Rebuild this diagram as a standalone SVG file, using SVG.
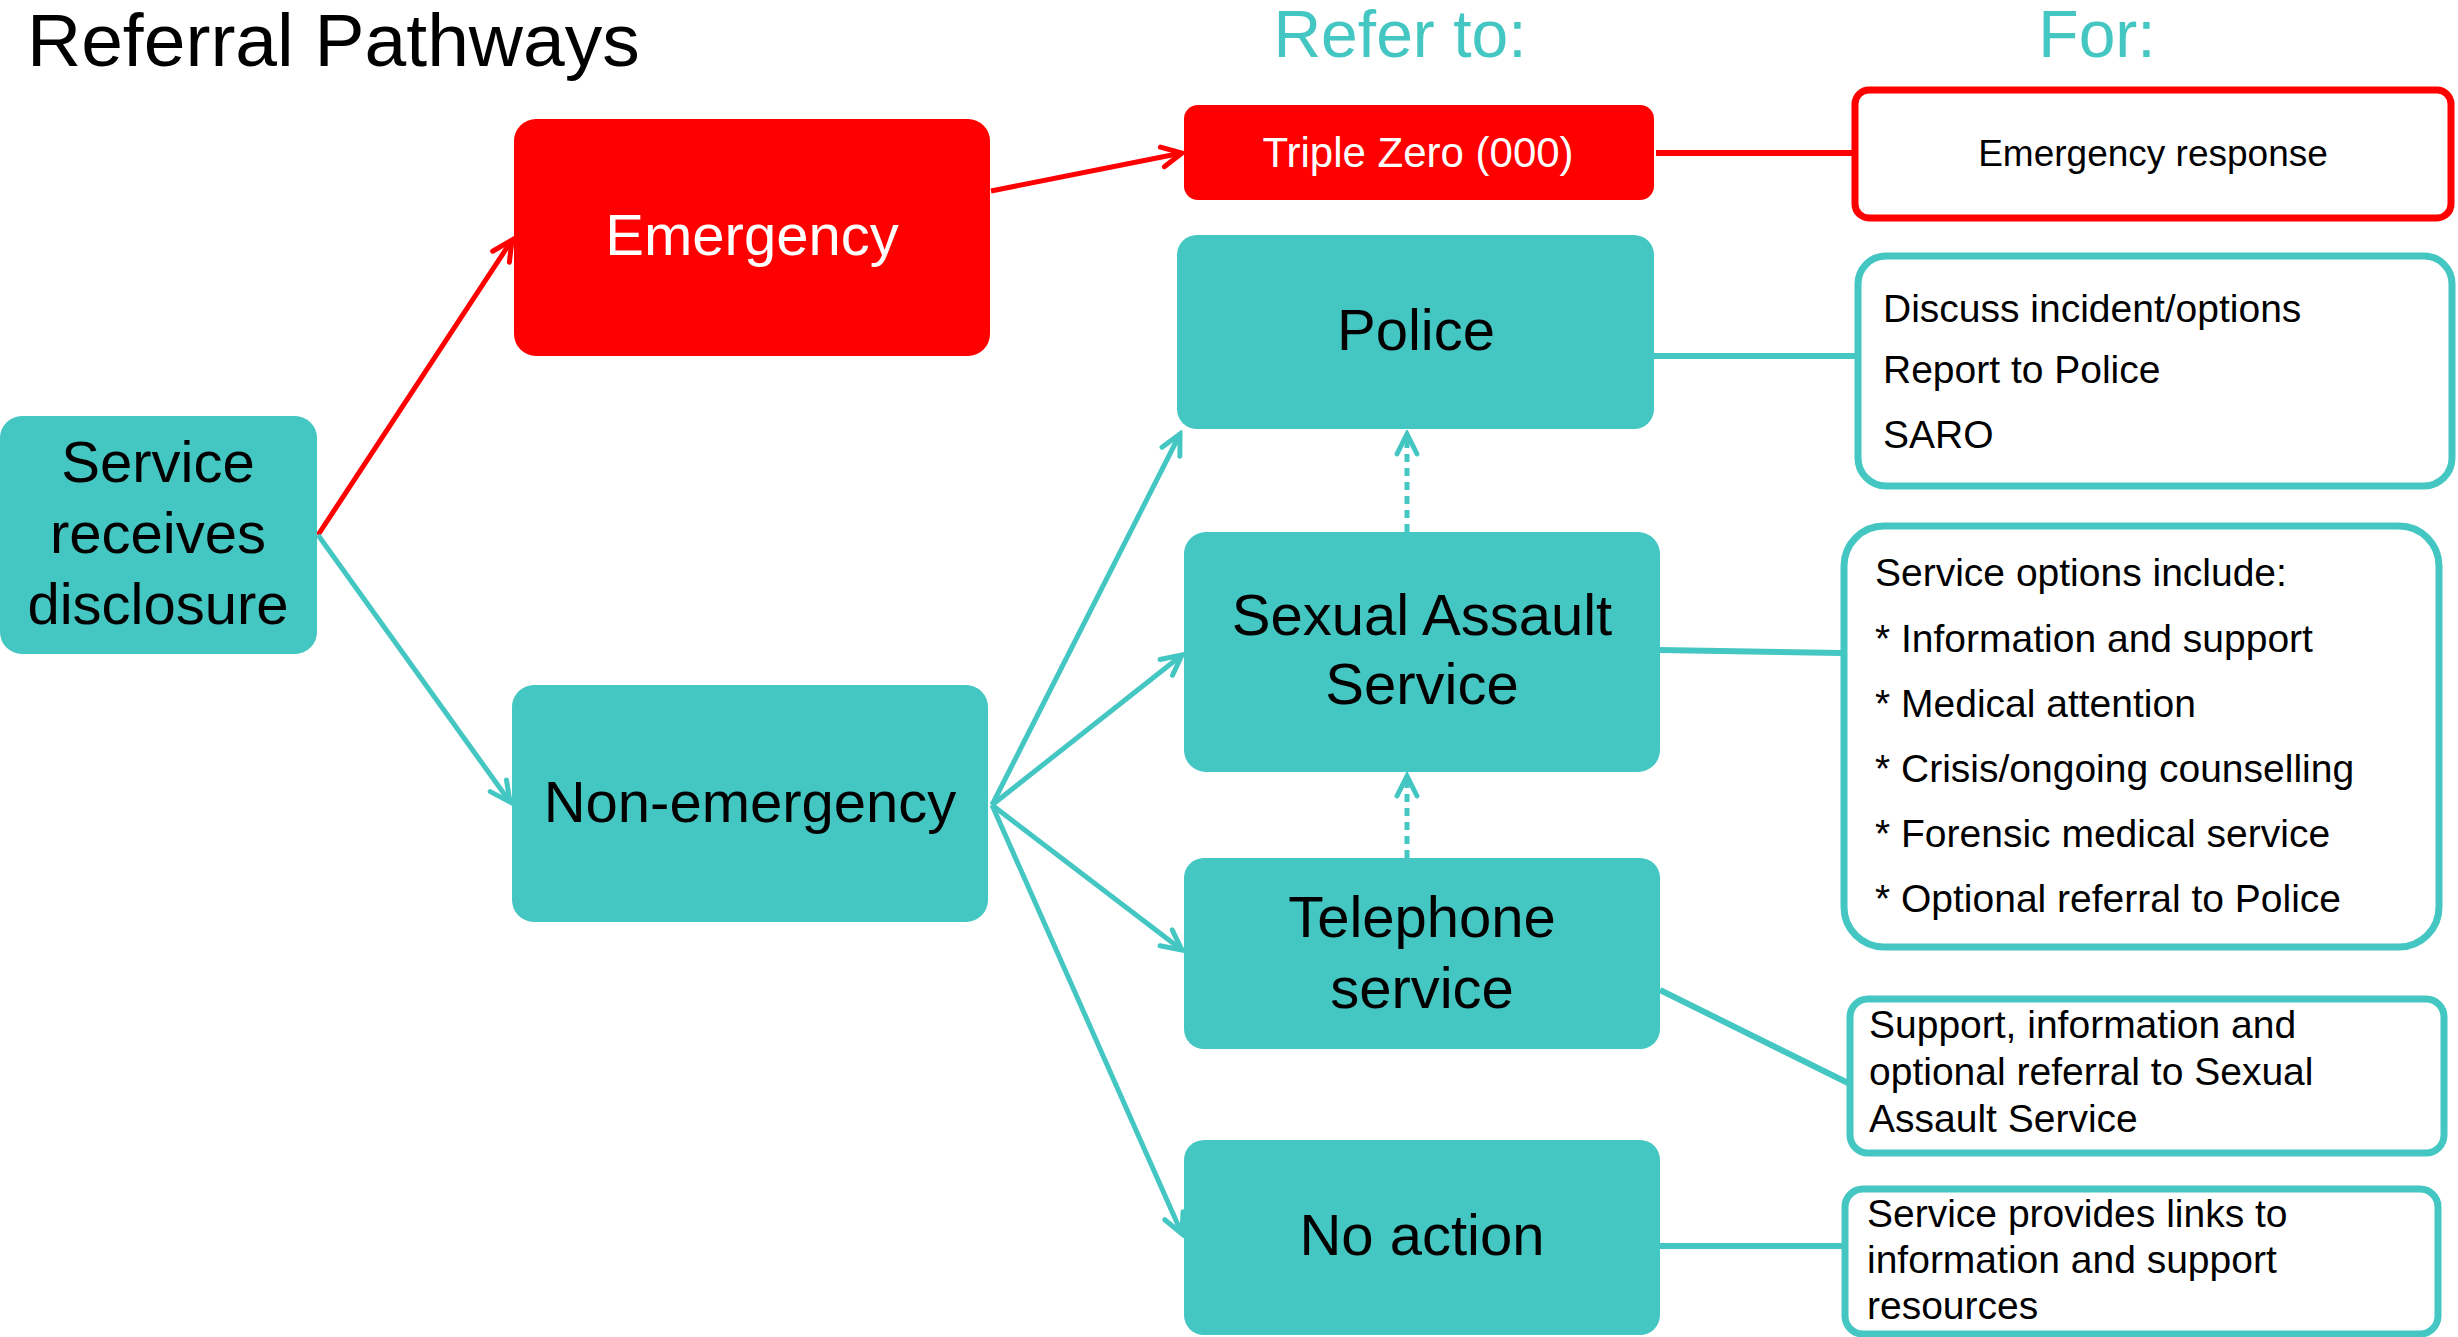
<svg xmlns="http://www.w3.org/2000/svg" width="2458" height="1337" viewBox="0 0 2458 1337">
<style>
text{font-family:"Liberation Sans",Arial,sans-serif;}
.node{fill:#44C6C2;}
.red{fill:#FF0000;}
.lbl{font-size:58px;fill:#000;text-anchor:middle;}
.wlbl{font-size:58px;fill:#fff;text-anchor:middle;}
.desc{fill:#fff;stroke:#44C6C2;stroke-width:7;}
.rdesc{fill:#fff;stroke:#FF0000;stroke-width:7;}
.dt{font-size:39px;fill:#000;}
.hdr{font-size:66px;fill:#44C6C2;text-anchor:middle;}
.ct{stroke:#44C6C2;stroke-width:5;fill:none;}
.cr{stroke:#FF0000;stroke-width:5;fill:none;}
.link{stroke:#44C6C2;stroke-width:6;fill:none;}
.dash{stroke:#44C6C2;stroke-width:5;fill:none;stroke-dasharray:8 6;}
</style>
<defs>
<marker id="at" markerUnits="userSpaceOnUse" markerWidth="30" markerHeight="30" viewBox="0 0 30 30" refX="26" refY="15" orient="auto">
<path d="M6,5 L26,15 L6,25" fill="none" stroke="#44C6C2" stroke-width="5" stroke-linecap="round" stroke-linejoin="miter"/>
</marker>
<marker id="ar" markerUnits="userSpaceOnUse" markerWidth="30" markerHeight="30" viewBox="0 0 30 30" refX="26" refY="15" orient="auto">
<path d="M6,5 L26,15 L6,25" fill="none" stroke="#FF0000" stroke-width="5" stroke-linecap="round" stroke-linejoin="miter"/>
</marker>
</defs>
<rect width="2458" height="1337" fill="#fff"/>
<text x="27" y="66" style="font-size:75px;fill:#000;">Referral Pathways</text>
<text x="1400" y="57" class="hdr">Refer to:</text>
<text x="2097" y="57" class="hdr">For:</text>

<g id="connectors">
<line x1="318" y1="535" x2="512" y2="240" class="cr" marker-end="url(#ar)"/>
<line x1="991" y1="191" x2="1182" y2="153" class="cr" marker-end="url(#ar)"/>
<line x1="1656" y1="153" x2="1852" y2="153" stroke="#FF0000" stroke-width="6"/>
<line x1="318" y1="535" x2="510" y2="802" class="ct" marker-end="url(#at)"/>
<line x1="992" y1="805" x2="1180" y2="434" class="ct" marker-end="url(#at)"/>
<line x1="992" y1="805" x2="1182" y2="655" class="ct" marker-end="url(#at)"/>
<line x1="992" y1="805" x2="1182" y2="950" class="ct" marker-end="url(#at)"/>
<line x1="992" y1="805" x2="1182" y2="1234" class="ct" marker-end="url(#at)"/>
<line x1="1407" y1="532" x2="1407" y2="434" class="dash" marker-end="url(#at)"/>
<line x1="1407" y1="858" x2="1407" y2="776" class="dash" marker-end="url(#at)"/>
<line x1="1654" y1="356" x2="1855" y2="356" class="link"/>
<line x1="1660" y1="650" x2="1842" y2="653" class="link"/>
<line x1="1660" y1="990" x2="1848" y2="1083" class="link"/>
<line x1="1660" y1="1246" x2="1843" y2="1246" class="link"/>
</g>

<g id="service-receives">
<rect x="0" y="416" width="317" height="238" rx="22" class="node"/>
<text class="lbl"><tspan x="158" y="482">Service</tspan><tspan x="158" y="553">receives</tspan><tspan x="158" y="624">disclosure</tspan></text>
</g>
<g id="emergency">
<rect x="514" y="119" width="476" height="237" rx="22" class="red"/>
<text x="752" y="255" class="wlbl">Emergency</text>
</g>
<g id="non-emergency">
<rect x="512" y="685" width="476" height="237" rx="22" class="node"/>
<text x="750" y="822" class="lbl">Non-emergency</text>
</g>
<g id="triple-zero">
<rect x="1184" y="105" width="470" height="95" rx="14" class="red"/>
<text x="1418" y="167" class="wlbl" style="font-size:42px">Triple Zero (000)</text>
</g>
<g id="police">
<rect x="1177" y="235" width="477" height="194" rx="20" class="node"/>
<text x="1416" y="350" class="lbl">Police</text>
</g>
<g id="sexual-assault-service">
<rect x="1184" y="532" width="476" height="240" rx="22" class="node"/>
<text class="lbl"><tspan x="1422" y="635">Sexual Assault</tspan><tspan x="1422" y="704">Service</tspan></text>
</g>
<g id="telephone-service">
<rect x="1184" y="858" width="476" height="191" rx="20" class="node"/>
<text class="lbl"><tspan x="1422" y="937">Telephone</tspan><tspan x="1422" y="1008">service</tspan></text>
</g>
<g id="no-action">
<rect x="1184" y="1140" width="476" height="195" rx="20" class="node"/>
<text x="1422" y="1255" class="lbl">No action</text>
</g>

<g id="emergency-response">
<rect x="1855" y="90" width="596" height="128" rx="14" class="rdesc"/>
<text x="2153" y="166" class="dt" style="text-anchor:middle;font-size:37px">Emergency response</text>
</g>
<g id="police-for">
<rect x="1858" y="256" width="594" height="230" rx="28" class="desc"/>
<text class="dt"><tspan x="1883" y="322">Discuss incident/options</tspan><tspan x="1883" y="383">Report to Police</tspan><tspan x="1883" y="448">SARO</tspan></text>
</g>
<g id="sas-for">
<rect x="1844" y="526" width="595" height="421" rx="40" class="desc"/>
<text class="dt"><tspan x="1875" y="586">Service options include:</tspan><tspan x="1875" y="652">* Information and support</tspan><tspan x="1875" y="717">* Medical attention</tspan><tspan x="1875" y="782">* Crisis/ongoing counselling</tspan><tspan x="1875" y="847">* Forensic medical service</tspan><tspan x="1875" y="912">* Optional referral to Police</tspan></text>
</g>
<g id="telephone-for">
<rect x="1850" y="999" width="594" height="154" rx="18" class="desc"/>
<text class="dt"><tspan x="1869" y="1038">Support, information and</tspan><tspan x="1869" y="1085">optional referral to Sexual</tspan><tspan x="1869" y="1132">Assault Service</tspan></text>
</g>
<g id="no-action-for">
<rect x="1845" y="1189" width="593" height="145" rx="18" class="desc"/>
<text class="dt"><tspan x="1867" y="1227">Service provides links to</tspan><tspan x="1867" y="1273">information and support</tspan><tspan x="1867" y="1319">resources</tspan></text>
</g>
</svg>
